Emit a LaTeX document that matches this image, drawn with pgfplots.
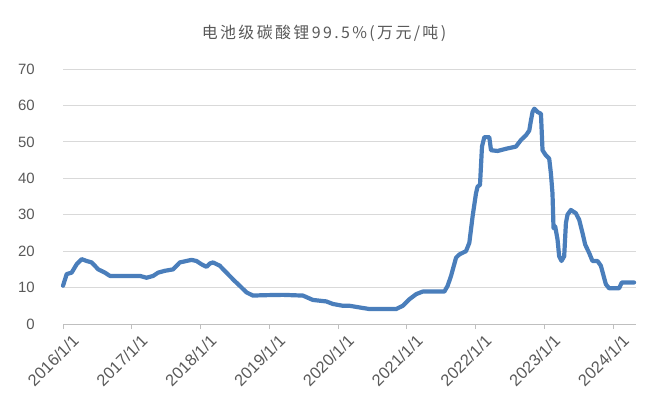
\documentclass[border=0pt]{standalone}
\usepackage{pgfplots}
\pgfplotsset{compat=1.18}
\usepackage{fontspec}
\setmainfont{Liberation Sans}
\newfontfamily\cjk[LetterSpace=15]{Noto Sans CJK SC}
\definecolor{linec}{RGB}{74,126,187}
\definecolor{txtc}{RGB}{89,89,89}
\definecolor{gridc}{RGB}{217,217,217}
\definecolor{axc}{RGB}{191,191,191}
\pgfplotstableread{
x y
0.000 10.5
0.054 13.7
0.126 14.1
0.199 16.4
0.271 17.8
0.344 17.3
0.417 16.9
0.512 15.0
0.610 14.1
0.682 13.2
1.118 13.2
1.215 12.7
1.311 13.2
1.383 14.1
1.480 14.6
1.601 15.0
1.698 16.9
1.795 17.3
1.868 17.6
1.940 17.3
2.013 16.4
2.086 15.7
2.134 16.6
2.181 16.9
2.279 16.0
2.376 14.1
2.496 11.8
2.569 10.5
2.666 8.7
2.762 7.8
2.907 7.9
3.197 8.0
3.488 7.8
3.633 6.6
3.827 6.2
3.923 5.5
4.068 5.0
4.165 5.0
4.358 4.4
4.456 4.1
4.843 4.1
4.939 5.0
5.036 6.8
5.134 8.2
5.229 8.9
5.544 8.9
5.592 10.5
5.641 13.2
5.714 18.2
5.762 19.1
5.859 20.0
5.907 22.3
5.955 29.6
6.004 35.9
6.027 37.7
6.062 38.2
6.091 48.7
6.125 51.3
6.197 51.3
6.222 47.7
6.318 47.5
6.440 48.1
6.585 48.7
6.657 50.5
6.730 51.8
6.778 53.1
6.803 55.9
6.826 58.2
6.851 59.1
6.899 58.2
6.948 57.7
6.971 47.7
7.020 46.3
7.068 45.4
7.093 41.3
7.116 35.8
7.131 26.3
7.155 26.8
7.189 23.2
7.213 18.6
7.247 17.3
7.286 18.6
7.311 27.7
7.334 30.0
7.383 31.3
7.456 30.4
7.504 28.6
7.552 25.0
7.591 21.8
7.649 19.5
7.697 17.3
7.770 17.3
7.819 16.0
7.892 10.9
7.939 9.8
8.084 9.8
8.123 11.4
8.302 11.4
}\datatable
\begin{document}
\begin{tikzpicture}
\useasboundingbox (-63bp,-94bp) rectangle (589bp,324bp);
\begin{axis}[
  at={(0,0)}, anchor=south west,
  scale only axis, width=573bp, height=255bp,
  xmin=0, xmax=8.33, ymin=0, ymax=70,
  xtick={0,1,2,3,4,5,6,7,8},
  xticklabels={2016/1/1,2017/1/1,2018/1/1,2019/1/1,2020/1/1,2021/1/1,2022/1/1,2023/1/1,2024/1/1},
  ytick={0,10,20,30,40,50,60,70},
  axis x line*=bottom, axis y line*=left,
  y axis line style={draw=none},
  x axis line style={draw=axc, line width=1bp},
  xtick style={draw=axc, line width=1bp},
  ytick style={draw=none},
  tick align=outside,
  major tick length=5bp,
  ymajorgrids, grid style={draw=gridc, line width=1bp},
  yticklabel style={font=\fontsize{15}{18}\selectfont, text=txtc, anchor=east, inner sep=0pt, xshift=-23bp},
  xticklabel style={font=\fontsize{16.5}{20}\selectfont, text=txtc, rotate=45, anchor=north east, inner sep=0pt, yshift=-9bp, xshift=3bp},
  /pgf/number format/assume math mode=true,
  clip=false,
]
\addplot[draw=linec, line width=4.2bp, line join=round, line cap=round] table {\datatable};
\end{axis}
\node[text=txtc, font=\cjk\fontsize{16}{19}\selectfont] at (261bp,291bp) {电池级碳酸锂99.5\%(万元/吨)};
\end{tikzpicture}
\end{document}
